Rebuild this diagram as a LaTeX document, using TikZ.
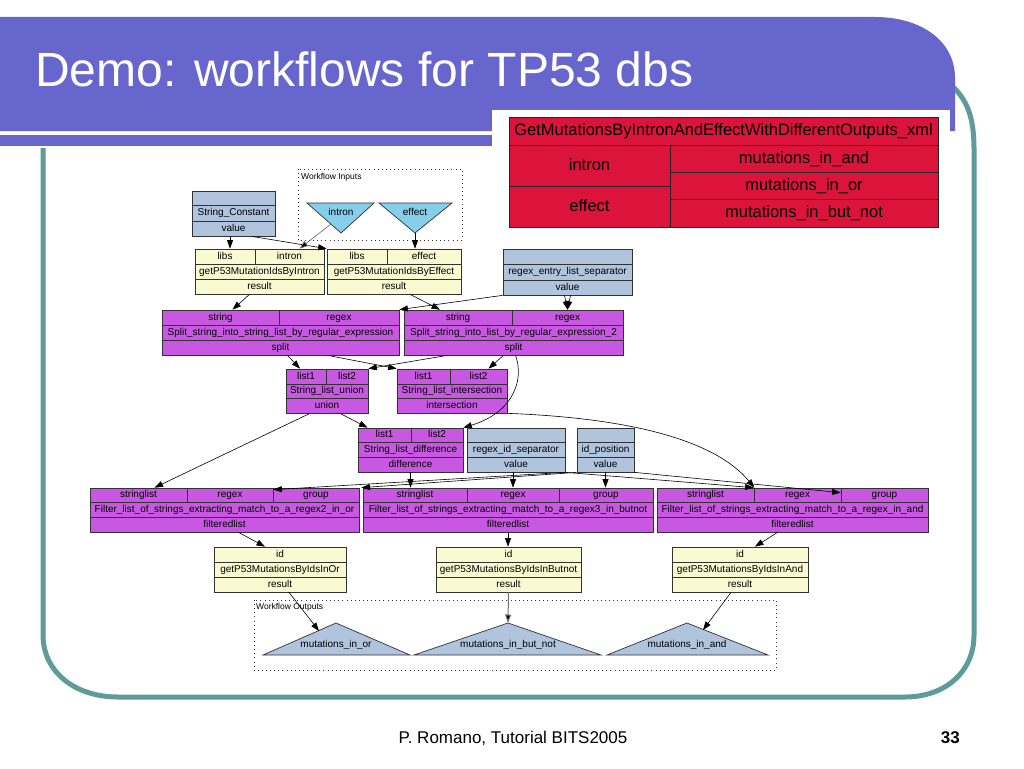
\documentclass[tikz,border=0pt]{standalone}
\usepackage{fontspec}
\setmainfont{Liberation Sans}
\usetikzlibrary{arrows.meta}
\definecolor{hdrblue}{RGB}{102,102,204}
\definecolor{frameteal}{RGB}{95,155,155}
\definecolor{lsblue}{RGB}{176,196,222}
\definecolor{lyellow}{RGB}{250,250,210}
\definecolor{orchidc}{RGB}{200,88,226}
\definecolor{skyb}{RGB}{135,206,235}
\definecolor{crim}{RGB}{220,20,60}
\definecolor{cellline}{RGB}{50,50,50}
\newcommand{\rc}[7]{\node[cell,#6,minimum width={(#4-#2)*1pt},minimum height={(#5-#3)*1pt}] (#1) at ({(#2+#4)/2},{(#3+#5)/2}) {#7};}
\begin{document}
\begin{tikzpicture}[x=1pt,y=-1pt,
  cell/.style={draw=cellline,line width=0.7pt,inner sep=0pt,font=\fontsize{10}{12}\selectfont,text=black,text height=7.3pt,text depth=1.7pt},
  bx/.style={fill=lsblue},
  yx/.style={fill=lyellow},
  px/.style={fill=orchidc},
  tx/.style={fill=crim,draw=black!85,line width=0.8pt,font=\fontsize{16.5}{19}\selectfont,text height=12pt,text depth=3pt},
  arr/.style={draw=black,line width=0.6pt,-{Triangle[length=8.5pt,width=6pt]}},
  garr/.style={draw=black!55,line width=0.7pt,-{Triangle[length=8.5pt,width=6pt,fill=black]}},
  dotbox/.style={draw=black!80,line width=0.8pt,dash pattern=on 0.9pt off 3.2pt},
  tri/.style={draw=cellline,line width=0.7pt},
  lbl/.style={font=\fontsize{10}{12}\selectfont,inner sep=0pt,text height=7.3pt,text depth=1.7pt},
  smalllbl/.style={font=\fontsize{8.5}{10}\selectfont,inner sep=0pt,anchor=west}]
\useasboundingbox (0,0) rectangle (1024,768);
\fill[white] (0,0) rectangle (1024,768);
% frame
\draw[frameteal,line width=5pt] (43,148) -- (43,635) .. controls (43,672) and (75,697) .. (118,697) -- (905,697) .. controls (945,697) and (974,672) .. (974,635) -- (974,150) .. controls (974,118) and (968,100) .. (950,84);
% header band
\fill[hdrblue] (0,17) -- (875,17) .. controls (920,17) and (955,40) .. (955,78) -- (955,131) -- (0,131) -- cycle;
\fill[hdrblue] (0,135) rectangle (500,146);
\node[anchor=base west,text=white,font=\fontsize{48}{58}\selectfont,inner sep=0pt] (title) at (35,86) {Demo: workflows for TP53 dbs};
% red table
\fill[white] (492,110) rectangle (950,232);
\rc{rt0}{509}{117}{938}{145}{tx}{GetMutationsByIntronAndEffectWithDifferentOutputs\_xml}
\rc{rt1}{509}{145}{670}{186}{tx}{intron}
\rc{rt2}{509}{186}{670}{227}{tx}{effect}
\rc{rt3}{670}{145}{938}{172}{tx}{mutations\_in\_and}
\rc{rt4}{670}{172}{938}{199}{tx}{mutations\_in\_or}
\rc{rt5}{670}{199}{938}{227}{tx}{mutations\_in\_but\_not}
% workflow inputs
\draw[dotbox] (298,169) rectangle (462,240);
\node[smalllbl] (winl) at (301,177) {Workflow Inputs};
\filldraw[tri,fill=skyb] (307,203) -- (374,203) -- (341,233) -- cycle;
\filldraw[tri,fill=skyb] (379,203) -- (452,203) -- (415,233) -- cycle;
\node[lbl] (intronIn) at (341,213) {intron};
\node[lbl] (effectIn) at (415,213) {effect};
\coordinate (inE) at (331,224);
\coordinate (effA) at (415,233);
% string constant
\rc{sc0}{192}{191}{275}{205}{bx}{}
\rc{sc1}{192}{205}{275}{221}{bx}{String\_Constant}
\rc{sc2}{192}{221}{275}{236}{bx}{value}
% getIntron
\rc{gi1}{195}{249}{255}{264}{yx}{libs}
\rc{gi2}{255}{249}{324}{264}{yx}{intron}
\rc{gi3}{195}{264}{324}{279}{yx}{getP53MutationIdsByIntron}
\rc{gi4}{195}{279}{324}{294}{yx}{result}
% getEffect
\rc{ge1}{327}{249}{387}{264}{yx}{libs}
\rc{ge2}{387}{249}{461}{264}{yx}{effect}
\rc{ge3}{327}{264}{461}{279}{yx}{getP53MutationIdsByEffect}
\rc{ge4}{327}{279}{461}{294}{yx}{result}
% regex entry
\rc{re0}{503}{249}{632}{264}{bx}{}
\rc{re1}{503}{264}{632}{280}{bx}{regex\_entry\_list\_separator}
\rc{re2}{503}{280}{632}{295}{bx}{value}
% split 1
\rc{sa1}{162}{310}{279}{325}{px}{string}
\rc{sa2}{279}{310}{399}{325}{px}{regex}
\rc{sa3}{162}{325}{399}{340}{px}{Split\_string\_into\_string\_list\_by\_regular\_expression}
\rc{sa4}{162}{340}{399}{355}{px}{split}
% split 2
\rc{sb1}{404}{310}{512}{325}{px}{string}
\rc{sb2}{512}{310}{623}{325}{px}{regex}
\rc{sb3}{404}{325}{623}{340}{px}{Split\_string\_into\_list\_by\_regular\_expression\_2}
\rc{sb4}{404}{340}{623}{355}{px}{split}
% union
\rc{un1}{286}{369}{326}{384}{px}{list1}
\rc{un2}{326}{369}{368}{384}{px}{list2}
\rc{un3}{286}{384}{368}{398}{px}{String\_list\_union}
\rc{un4}{286}{398}{368}{413}{px}{union}
% intersection
\rc{is1}{397}{369}{450}{384}{px}{list1}
\rc{is2}{450}{369}{507}{384}{px}{list2}
\rc{is3}{397}{384}{507}{398}{px}{String\_list\_intersection}
\rc{is4}{397}{398}{507}{413}{px}{intersection}
% difference
\rc{df1}{358}{428}{411}{442}{px}{list1}
\rc{df2}{411}{428}{463}{442}{px}{list2}
\rc{df3}{358}{442}{463}{457}{px}{String\_list\_difference}
\rc{df4}{358}{457}{463}{472}{px}{difference}
% regex id separator
\rc{ri0}{467}{428}{565}{442}{bx}{}
\rc{ri1}{467}{442}{565}{457}{bx}{regex\_id\_separator}
\rc{ri2}{467}{457}{565}{472}{bx}{value}
% id position
\rc{ip0}{577}{428}{634}{442}{bx}{}
\rc{ip1}{577}{442}{634}{457}{bx}{id\_position}
\rc{ip2}{577}{457}{634}{472}{bx}{value}
% filters
\rc{fa1}{90}{488}{187}{502}{px}{stringlist}
\rc{fa2}{187}{488}{273}{502}{px}{regex}
\rc{fa3}{273}{488}{359}{502}{px}{group}
\rc{fa4}{90}{502}{359}{517}{px}{Filter\_list\_of\_strings\_extracting\_match\_to\_a\_regex2\_in\_or}
\rc{fa5}{90}{517}{359}{532}{px}{filteredlist}
\rc{fb1}{363}{488}{467}{502}{px}{stringlist}
\rc{fb2}{467}{488}{559}{502}{px}{regex}
\rc{fb3}{559}{488}{653}{502}{px}{group}
\rc{fb4}{363}{502}{653}{517}{px}{Filter\_list\_of\_strings\_extracting\_match\_to\_a\_regex3\_in\_butnot}
\rc{fb5}{363}{517}{653}{532}{px}{filteredlist}
\rc{fc1}{657}{488}{754}{502}{px}{stringlist}
\rc{fc2}{754}{488}{841}{502}{px}{regex}
\rc{fc3}{841}{488}{928}{502}{px}{group}
\rc{fc4}{657}{502}{928}{517}{px}{Filter\_list\_of\_strings\_extracting\_match\_to\_a\_regex\_in\_and}
\rc{fc5}{657}{517}{928}{532}{px}{filteredlist}
% getByIds
\rc{go1}{214}{547}{346}{562}{yx}{id}
\rc{go2}{214}{562}{346}{577}{yx}{getP53MutationsByIdsInOr}
\rc{go3}{214}{577}{346}{592}{yx}{result}
\rc{gb1}{436}{547}{581}{562}{yx}{id}
\rc{gb2}{436}{562}{581}{577}{yx}{getP53MutationsByIdsInButnot}
\rc{gb3}{436}{577}{581}{592}{yx}{result}
\rc{ga1}{672}{547}{808}{562}{yx}{id}
\rc{ga2}{672}{562}{808}{577}{yx}{getP53MutationsByIdsInAnd}
\rc{ga3}{672}{577}{808}{592}{yx}{result}
% workflow outputs
\draw[dotbox] (254,600) rectangle (776,670);
\node[smalllbl] (woutl) at (256,607) {Workflow Outputs};
\filldraw[tri,fill=lsblue] (263,655) -- (336,623) -- (410,655) -- cycle;
\filldraw[tri,fill=lsblue] (414,655) -- (508,623) -- (601,655) -- cycle;
\filldraw[tri,fill=lsblue] (607,655) -- (687,623) -- (768,655) -- cycle;
\node[lbl] (outOr) at (336,645) {mutations\_in\_or};
\node[lbl] (outBn) at (508,645) {mutations\_in\_but\_not};
\node[lbl] (outAnd) at (687,645) {mutations\_in\_and};
\coordinate (orE) at (319,631);
\coordinate (bnA) at (508,623);
\coordinate (andE) at (703,630);
% edges
\draw[arr] ([xshift=-3.5pt]sc2.south) -- ([xshift=5pt]gi1.north);
\draw[arr] ([xshift=18pt]sc2.south) -- (ge1.north west);
\draw[garr] (inE) -- ([xshift=10pt]gi2.north);
\draw[arr] (effA) -- (effA |- ge2.north);
\draw[arr] ([xshift=-10pt]gi4.south) -- ([xshift=12pt]sa1.north);
\draw[arr] ([xshift=16pt]ge4.south) -- ([xshift=-18pt]sb1.north);
\draw[arr] (re2.south west) -- (sa2.north east);
\draw[arr] ([xshift=-3pt]re2.south) -- (sb2.north);
\draw[arr] ([xshift=3pt]re2.south) -- (sb2.north);
\draw[arr] ([xshift=7pt]sa4.south) -- ([xshift=-6pt]un1.north);
\draw[arr] ([xshift=47pt]sa4.south) -- (is1.north west);
\draw[arr] ([xshift=-66pt]sb4.south) -- (un2.north east);
\draw[arr] ([xshift=-10pt]sb4.south) -- ([xshift=10pt]is2.north);
\draw[arr] ([xshift=2pt]sb4.south) .. controls (524,378) and (515,412) .. (df2.north east);
\draw[arr] ([xshift=13pt]un4.south) -- ([xshift=-17pt]df1.north);
\draw[arr] ([xshift=-17pt]un4.south) -- ([xshift=16pt]fa1.north);
\draw[arr] (is4.south east) .. controls (630,418) and (715,440) .. (fc1.north east);
\draw[arr] (df4.south) -- (df4.south |- fb1.north);
\draw[arr] (fb2.north |- ri2.south) -- (fb2.north);
\draw[arr] (ip2.south) -- (ip2.south |- fb3.north);
\draw[arr] (ri2.south east) -- ([yshift=-2pt]fa2.north east);
\draw[arr] (ip2.south west) -- ([xshift=2pt]fa3.north east);
\draw[arr] (ri2.south east) -- (fc2.north west);
\draw[arr] (ip2.south east) -- ([yshift=-5pt]fc3.north west);
\draw[arr] ([xshift=14pt]fa5.south) -- ([xshift=-15pt]go1.north);
\draw[arr] (fb5.south) -- (fb5.south |- gb1.north);
\draw[arr] ([xshift=-15pt]fc5.south) -- ([xshift=15pt]ga1.north);
\draw[arr] ([xshift=9pt]go3.south) -- (orE);
\draw[garr,line width=1pt] (gb3.south) -- (bnA);
\draw[arr] ([xshift=-9pt]ga3.south) -- (andE);
% footer
\node[anchor=base,font=\fontsize{17}{20}\selectfont,inner sep=0pt] (footer) at (513,743) {P. Romano, Tutorial BITS2005};
\node[anchor=base east,font=\fontsize{17}{20}\selectfont\bfseries,inner sep=0pt] (pnum) at (960,743) {33};
\end{tikzpicture}
\end{document}
